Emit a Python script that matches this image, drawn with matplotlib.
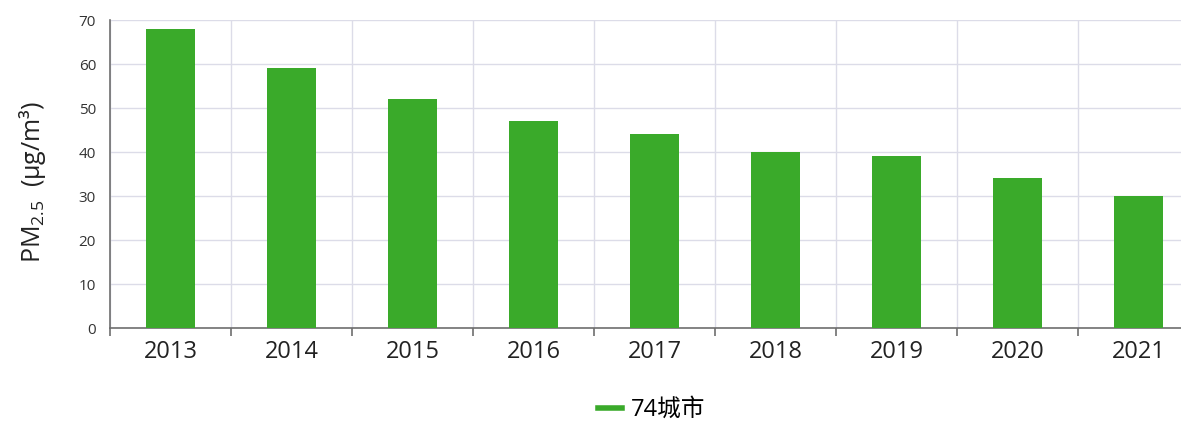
import numpy as np
import matplotlib.pyplot as plt

plt.rcParams['font.family'] = ['Open Sans', 'Noto Sans CJK SC', 'DejaVu Sans']
plt.rcParams['mathtext.fontset'] = 'custom'
plt.rcParams['mathtext.rm'] = 'Open Sans'
plt.rcParams['mathtext.it'] = 'Open Sans'
plt.rcParams['mathtext.default'] = 'rm'

# Données : PM2.5 moyen des 74 villes
years = ['2013', '2014', '2015', '2016', '2017', '2018', '2019', '2020', '2021']
pm25 = [68, 59, 52, 47, 44, 40, 39, 34, 30]
series_name = '74城市'

bar_color = '#3aaa2a'
grid_color = '#dcdce8'
axis_color = '#6e6e6e'

fig = plt.figure(figsize=(11.81, 4.21), dpi=100)
ax = fig.add_axes([110 / 1181, 1 - 328 / 421, 1089 / 1181, 308 / 421])

x = np.arange(len(years))
ax.bar(x, pm25, width=0.4, color=bar_color, label=series_name, zorder=3)

ax.set_xlim(-0.5, len(years) - 0.5)
ax.set_ylim(0, 70)
ax.set_yticks(np.arange(0, 71, 10))
ax.set_xticks(x)
ax.set_xticklabels(years, fontsize=17, color='#222222')
ax.set_xticks(np.arange(-0.5, len(years), 1), minor=True)

ax.grid(axis='y', which='major', color=grid_color, lw=1, zorder=0)
ax.grid(axis='x', which='minor', color=grid_color, lw=1, zorder=0)
ax.tick_params(axis='x', which='major', length=0, pad=9)
ax.tick_params(axis='x', which='minor', length=6, color=axis_color, width=1.2)
ax.tick_params(axis='y', length=0, labelsize=11, labelcolor='#333333', pad=10)

for s in ['top', 'right']:
    ax.spines[s].set_visible(False)
for s in ['left', 'bottom']:
    ax.spines[s].set_color(axis_color)
    ax.spines[s].set_linewidth(1.2)

fig.text(33 / 1181, 1 - 182 / 421, r'PM$_{2.5}$  (μg/m³)', rotation=90,
         ha='center', va='center', fontsize=18, color='#222222')

fig.legend(handles=[plt.Line2D([], [], color=bar_color, lw=4)],
           labels=[series_name], loc='center', bbox_to_anchor=(652 / 1181, 1 - 410 / 421),
           frameon=False, fontsize=17, handlelength=1.0, handletextpad=0.4)

fig.savefig('out.png', dpi=100)
